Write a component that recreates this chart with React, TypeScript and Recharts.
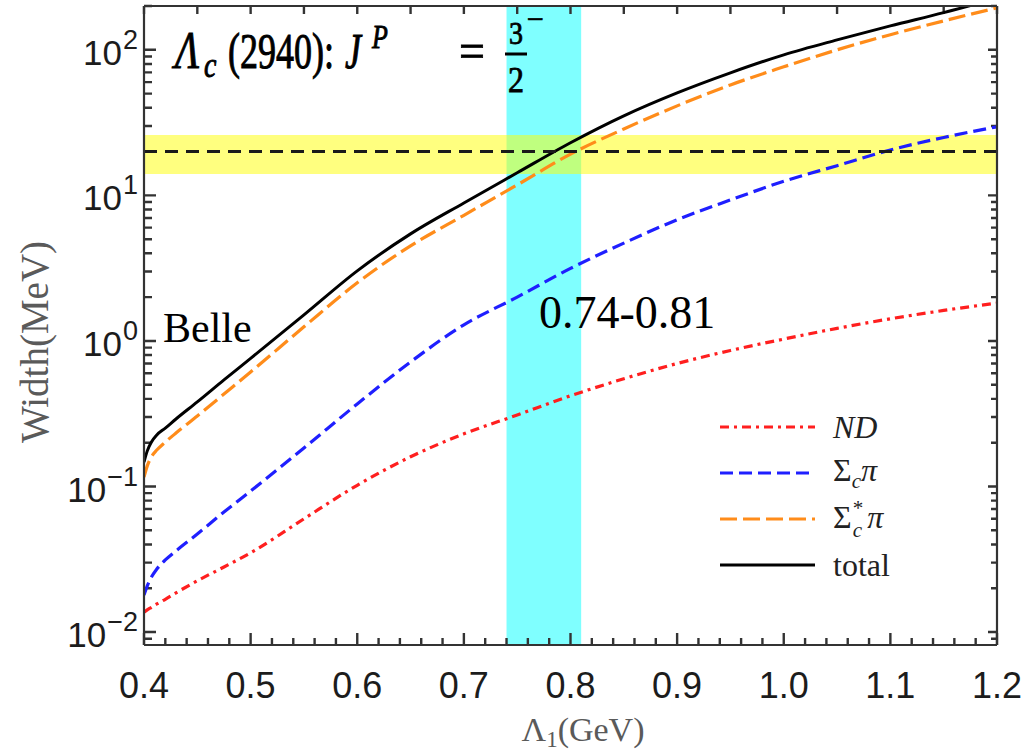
import { LineChart, Line, XAxis, YAxis, ReferenceArea, ReferenceLine, Legend } from 'recharts';

// ─── Data: partial widths of Λc(2940) vs Λ1 ──────────────────

const LAMBDA = [0.4, 0.403, 0.407, 0.412, 0.42, 0.43, 0.45, 0.475, 0.5, 0.55, 0.6, 0.65, 0.7, 0.75, 0.8, 0.85, 0.9, 0.95, 1.0, 1.05, 1.1, 1.15, 1.2];
const ND = [0.0137, 0.0142, 0.0148, 0.0156, 0.0168, 0.0186, 0.0225, 0.028, 0.035, 0.06, 0.102, 0.16, 0.23, 0.31, 0.42, 0.55, 0.7, 0.86, 1.03, 1.22, 1.42, 1.62, 1.82];
const SIGMA_C_PI = [0.018, 0.0207, 0.0239, 0.0271, 0.0313, 0.0361, 0.0472, 0.0668, 0.0931, 0.184, 0.369, 0.718, 1.29, 2.0, 3.15, 4.7, 6.8, 9.3, 12.5, 16.0, 20.5, 25.0, 29.6];
const SIGMA_C_STAR_PI = [0.116, 0.138, 0.16, 0.178, 0.202, 0.233, 0.305, 0.432, 0.612, 1.25, 2.51, 4.5, 7.3, 11.8, 19.2, 28.6, 41.2, 57.4, 76.4, 100, 127, 158, 194];
const TOTAL = [0.147, 0.175, 0.202, 0.226, 0.252, 0.291, 0.381, 0.54, 0.759, 1.51, 3.03, 5.44, 8.87, 14.3, 23.0, 35.2, 50.6, 69.5, 92.4, 117, 146, 180, 226];

// Belle measurement and the fitted Λ1 window
const BELLE_WIDTH = 20;
const BELLE_BAND = [14, 26];
const LAMBDA_BAND = [0.74, 0.81];

// Axis ticks
const X_DOMAIN = [0.4, 1.2];
const Y_DOMAIN = [0.00815, 200];
const X_MAJOR = [0.4, 0.5, 0.6, 0.7, 0.8, 0.9, 1.0, 1.1, 1.2];
const Y_MAJOR = [0.01, 0.1, 1, 10, 100];
const Y_EXPONENTS = ['\u22122', '\u22121', '0', '1', '2'];

const X_BOTTOM_TICKS = Array.from({ length: 41 }, (_, i) => Math.round((0.4 + i * 0.02) * 100) / 100);
const X_TOP_TICKS = Array.from({ length: 17 }, (_, i) => Math.round((0.4 + i * 0.05) * 100) / 100);
const Y_TICKS = [0.009, ...Y_MAJOR.flatMap((d) => [1, 2, 3, 4, 5, 6, 7, 8, 9].map((m) => +(m * d).toPrecision(2)))].filter(
  (v) => v <= 200,
);

const data = LAMBDA.map((x, i) => ({
  x,
  nd: ND[i],
  sigma: SIGMA_C_PI[i],
  sigmaStar: SIGMA_C_STAR_PI[i],
  total: TOTAL[i],
}));

const SERIF = '"Liberation Serif", "Times New Roman", serif';
const SANS = '"Liberation Sans", Arial, sans-serif';
const FRAME = '#333333';
const LABEL_GRAY = '#5a5a5a';

const SERIES = [
  { key: 'nd', color: '#ff1f1f', dash: '9 5 3 5', width: 3.2 },
  { key: 'sigma', color: '#1f1fff', dash: '13 6', width: 3.2 },
  { key: 'sigmaStar', color: '#ff8c1a', dash: '17 6', width: 3.2 },
  { key: 'total', color: '#000000', dash: undefined, width: 3 },
];

const isXMajor = (v: number) => X_MAJOR.some((m) => Math.abs(m - v) < 1e-6);
const yMajorIndex = (v: number) => Y_MAJOR.findIndex((m) => Math.abs(m - v) / m < 1e-6);

// ─── Tick labels (axis renderers) ────────────────────────────

// eslint-disable-next-line @typescript-eslint/no-explicit-any
const BottomLabel = ({ x, y, payload }: any) =>
  isXMajor(payload.value) ? (
    <text x={x} y={y + 53} textAnchor="middle" fontFamily={SANS} fontSize={36} fill="#1c1c1c">
      {payload.value.toFixed(1)}
    </text>
  ) : (
    <g />
  );

// eslint-disable-next-line @typescript-eslint/no-explicit-any
const LeftLabel = ({ x, y, payload }: any) => {
  const idx = yMajorIndex(payload.value);
  if (idx < 0) return <g />;
  return (
    <text x={x - 6} y={y + 15} textAnchor="end" fontFamily={SANS} fill="#1c1c1c">
      <tspan fontSize={35}>10</tspan>
      <tspan fontSize={27} dx={1} dy={-16}>
        {Y_EXPONENTS[idx]}
      </tspan>
    </text>
  );
};

// ─── Inward frame ticks, drawn as ReferenceLine shapes ───────

const TICK_W = 2.4;

// eslint-disable-next-line @typescript-eslint/no-explicit-any
const bottomMark = (len: number) => (p: any) => {
  const yb = Math.max(Number(p.y1), Number(p.y2));
  return <path d={`M${p.x1},${yb}V${yb - len}`} stroke={FRAME} strokeWidth={TICK_W} fill="none" />;
};

// eslint-disable-next-line @typescript-eslint/no-explicit-any
const topMark = (p: any) => {
  const yt = Math.min(Number(p.y1), Number(p.y2));
  return <path d={`M${p.x1},${yt}V${yt + 8}`} stroke={FRAME} strokeWidth={TICK_W} fill="none" />;
};

// eslint-disable-next-line @typescript-eslint/no-explicit-any
const sideMarks = (len: number) => (p: any) => {
  const xl = Math.min(Number(p.x1), Number(p.x2));
  const xr = Math.max(Number(p.x1), Number(p.x2));
  return (
    <path
      d={`M${xl},${p.y1}H${xl + len}M${xr},${p.y1}H${xr - len * 0.75}`}
      stroke={FRAME}
      strokeWidth={TICK_W}
      fill="none"
    />
  );
};

// ─── Legend ──────────────────────────────────────────────────

const LEGEND_LABELS = [
  <i key="nd">ND</i>,
  <span key="s">
    Σ<sub style={{ fontSize: '0.66em', fontStyle: 'italic' }}>c</sub>
    <i>π</i>
  </span>,
  <span key="ss">
    Σ
    <span
      style={{
        display: 'inline-block',
        fontSize: '0.66em',
        lineHeight: 1.05,
        verticalAlign: '-0.4em',
        marginLeft: 1,
        marginRight: 4,
      }}
    >
      *
      <br />
      <i>c</i>
    </span>
    <i>π</i>
  </span>,
  <span key="t">total</span>,
];

const LegendBox = () => (
  <div style={{ fontFamily: SERIF, fontSize: 32, color: '#222', lineHeight: 1 }}>
    {SERIES.map((s, i) => (
      <div key={s.key} style={{ display: 'flex', alignItems: 'center', height: 45.9 }}>
        <svg width={100} height={10} style={{ display: 'block' }}>
          <line x1={4} x2={99} y1={5} y2={5} stroke={s.color} strokeWidth={s.width} strokeDasharray={s.dash} />
        </svg>
        <span style={{ marginLeft: 17 }}>{LEGEND_LABELS[i]}</span>
      </div>
    ))}
  </div>
);

// ─── Text annotations ────────────────────────────────────────

// eslint-disable-next-line @typescript-eslint/no-explicit-any
const Stretch = ({ x, y, sy = 1, children, ...rest }: any) => (
  <text transform={`translate(${x},${y}) scale(1,${sy})`} {...rest}>
    {children}
  </text>
);

const Annotations = () => (
  <svg width={1035} height={754} style={{ position: 'absolute', left: 0, top: 0, pointerEvents: 'none' }}>
    {/* Λc(2940): J^P = 3/2^- */}
    <g fontFamily={SERIF} fill="#000" stroke="#000" strokeWidth={0.7}>
      <Stretch x={175} y={68} sy={1.3} fontSize={40} fontStyle="italic">Λ</Stretch>
      <Stretch x={204} y={77} sy={1.3} fontSize={28} fontStyle="italic">c</Stretch>
      <Stretch x={228} y={68} sy={1.38} fontSize={36}>(2940):</Stretch>
      <Stretch x={345} y={68} sy={1.38} fontSize={36} fontStyle="italic">J</Stretch>
      <Stretch x={372} y={48} sy={1.3} fontSize={26} fontStyle="italic">P</Stretch>
      <Stretch x={459} y={68} sy={1.1} fontSize={46}>=</Stretch>
      <Stretch x={516} y={44} sy={1.15} fontSize={28} textAnchor="middle">3</Stretch>
      <Stretch x={516} y={92} sy={1.15} fontSize={32} textAnchor="middle">2</Stretch>
      <Stretch x={527} y={29} sy={1} fontSize={30}>−</Stretch>
    </g>
    <line x1={505} x2={527} y1={54} y2={54} stroke="#000" strokeWidth={3} />
    <g fontFamily={SERIF} fill="#000">
      <Stretch x={163} y={342} fontSize={42}>Belle</Stretch>
      <Stretch x={539} y={328} fontSize={46}>0.74-0.81</Stretch>
    </g>
    <g fontFamily={SERIF} fill={LABEL_GRAY}>
      <text transform="translate(48,342) rotate(-90)" textAnchor="middle" fontSize={39}>
        Width(MeV)
      </text>
      <text x={583} y={741} textAnchor="middle" fontSize={34}>
        Λ
        <tspan fontSize={23} dy={6}>1</tspan>
        <tspan dy={-6}>(GeV)</tspan>
      </text>
    </g>
  </svg>
);

// ─── Chart ───────────────────────────────────────────────────

const axisLineStyle = { stroke: FRAME, strokeWidth: 2.2 };

export default function App() {
  return (
    <div style={{ position: 'absolute', left: 0, top: 0, width: 1035, height: 754, background: '#fff' }}>
      <LineChart width={1035} height={754} data={data} margin={{ top: 5, right: 37, bottom: 0, left: 0 }}>
        <XAxis
          dataKey="x"
          type="number"
          domain={X_DOMAIN}
          allowDataOverflow
          ticks={X_MAJOR}
          interval={0}
          height={109}
          tickSize={0}
          tickMargin={0}
          tickLine={false}
          axisLine={axisLineStyle}
          tick={BottomLabel}
        />
        <XAxis xAxisId="top" orientation="top" type="number" domain={X_DOMAIN} height={1} tick={false} tickLine={false} axisLine={axisLineStyle} />
        <YAxis
          type="number"
          scale="log"
          domain={Y_DOMAIN}
          allowDataOverflow
          ticks={Y_MAJOR}
          interval={0}
          width={144}
          tickSize={0}
          tickMargin={0}
          tickLine={false}
          axisLine={axisLineStyle}
          tick={LeftLabel}
        />
        <YAxis
          yAxisId="right"
          orientation="right"
          type="number"
          scale="log"
          domain={Y_DOMAIN}
          allowDataOverflow
          width={1}
          tick={false}
          tickLine={false}
          axisLine={axisLineStyle}
        />

        <ReferenceArea x1={LAMBDA_BAND[0]} x2={LAMBDA_BAND[1]} fill="#00ffff" fillOpacity={0.5} stroke="none" />
        <ReferenceArea y1={BELLE_BAND[0]} y2={BELLE_BAND[1]} fill="#ffff00" fillOpacity={0.5} stroke="none" />

        {X_BOTTOM_TICKS.map((v) => (
          <ReferenceLine key={`b${v}`} x={v} shape={bottomMark(isXMajor(v) ? 12 : 7)} />
        ))}
        {X_TOP_TICKS.map((v) => (
          <ReferenceLine key={`t${v}`} x={v} shape={topMark} />
        ))}
        {Y_TICKS.map((v) => (
          <ReferenceLine key={`y${v}`} y={v} shape={sideMarks(yMajorIndex(v) >= 0 ? 12 : 8)} />
        ))}

        {SERIES.map((s) => (
          <Line
            key={s.key}
            dataKey={s.key}
            type="monotone"
            stroke={s.color}
            strokeWidth={s.width}
            strokeDasharray={s.dash}
            dot={false}
            activeDot={false}
            isAnimationActive={false}
          />
        ))}

        <ReferenceLine y={BELLE_WIDTH} stroke="#1a1a1a" strokeWidth={3} strokeDasharray="13 8" />

        <Legend
          layout="vertical"
          align="center"
          verticalAlign="middle"
          content={<LegendBox />}
          wrapperStyle={{ left: 716, top: 404, width: 240 }}
        />
      </LineChart>
      <Annotations />
    </div>
  );
}
